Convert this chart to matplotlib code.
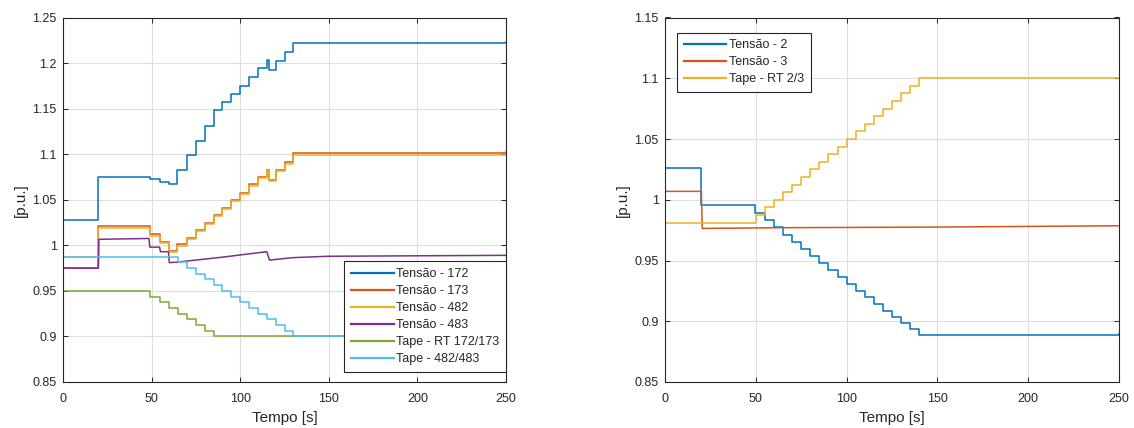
import matplotlib
matplotlib.use("Agg")
import matplotlib.pyplot as plt
from matplotlib.ticker import FuncFormatter, MultipleLocator

# ---- data (time in s, values in p.u.) ----
# left plot: bus voltages 172 / 173 / 482 share the same switching instants
t_bus = [0, 20, 49, 55, 60, 64.5, 70, 75, 80, 85, 90, 95, 100, 105, 110,
         115, 116.3, 120, 125, 130, 250]
v_172 = [1.028, 1.075, 1.0724, 1.0698, 1.0676, 1.0829, 1.0987, 1.1148, 1.1312,
         1.1481, 1.1572, 1.1664, 1.1752, 1.1847, 1.1942, 1.2033, 1.1924, 1.2023,
         1.2121, 1.2225, 1.2234]
v_173 = [0.9755, 1.0207, 1.012, 1.0032, 0.9937, 1.001, 1.0083, 1.0167, 1.0248,
         1.0332, 1.0412, 1.0497, 1.0579, 1.067, 1.075, 1.083, 1.072, 1.083,
         1.091, 1.101, 1.102]
v_482 = [0.9875, 1.019, 1.0102, 1.0021, 0.9926, 0.9995, 1.0068, 1.0152, 1.0233,
         1.0317, 1.0397, 1.0482, 1.0564, 1.0655, 1.0735, 1.0815, 1.0705, 1.0815,
         1.0895, 1.099, 1.100]

# bus 483 drifts between the steps, so it is drawn as a plain polyline
t_483 = [0, 20, 20.3, 48.5, 49, 54.5, 55, 59.5, 60, 64, 90, 115, 116.5, 130, 150, 250]
v_483 = [0.975, 0.975, 1.0066, 1.0075, 0.998, 0.998, 0.993, 0.993, 0.981,
         0.9815, 0.987, 0.993, 0.9838, 0.9865, 0.988, 0.989]

# tap positions (steps of 0.00625)
t_tap_172 = [0, 49, 55, 60, 65, 70, 75, 80, 85, 250]
v_tap_172 = [0.95, 0.94375, 0.9375, 0.93125, 0.925, 0.91875, 0.9125, 0.90625, 0.9, 0.9]
t_tap_482 = [0, 65, 70, 75, 80, 85, 90, 95, 100, 105, 110, 115, 120, 125, 130, 250]
v_tap_482 = [0.9875, 0.98125, 0.975, 0.96875, 0.9625, 0.95625, 0.95, 0.94375,
             0.9375, 0.93125, 0.925, 0.91875, 0.9125, 0.90625, 0.9, 0.9]

# right plot
t_2 = [0, 20, 49.5, 55, 60, 65, 70, 75, 80, 85, 90, 95, 100, 105, 110, 115,
       120, 125, 130, 135, 140, 250]
v_2 = [1.026, 0.9953, 0.989, 0.9835, 0.9775, 0.9712, 0.965, 0.9594, 0.9533,
       0.9478, 0.9423, 0.9363, 0.9305, 0.9253, 0.9198, 0.9143, 0.9088, 0.9033,
       0.8984, 0.8935, 0.8884, 0.8896]
t_3 = [0, 20, 20.5, 65, 150, 250]
v_3 = [1.0069, 1.0069, 0.9764, 0.977, 0.9775, 0.9786]
t_tap_2 = [0, 50, 55, 60, 65, 70, 75, 80, 85, 90, 95, 100, 105, 110, 115, 120,
           125, 130, 135, 140, 250]
v_tap_2 = [0.98125, 0.9875, 0.99375, 1.0, 1.00625, 1.0125, 1.01875, 1.025,
           1.03125, 1.0375, 1.04375, 1.05, 1.05625, 1.0625, 1.06875, 1.075,
           1.08125, 1.0875, 1.09375, 1.1, 1.1]

left_labels = ["Tensão - 172", "Tensão - 173", "Tensão - 482", "Tensão - 483",
               "Tape - RT 172/173", "Tape - 482/483"]
right_labels = ["Tensão - 2", "Tensão - 3", "Tape - RT 2/3"]

# MATLAB default line colours
c = ["#0072BD", "#D95319", "#EDB120", "#7E2F8E", "#77AC30", "#4DBEEE"]

plt.rcParams["font.family"] = ["Liberation Sans", "DejaVu Sans"]
plt.rcParams["text.color"] = "#262626"
dark = "#262626"
lw = 1.1

fig = plt.figure(figsize=(11.34, 4.28), dpi=100)
H = 428
W = 1134
ax1 = fig.add_axes([63 / W, 1 - 382 / H, (506 - 63) / W, (382 - 17.5) / H])
ax2 = fig.add_axes([665 / W, 1 - 382 / H, (1119 - 665) / W, (382 - 17.5) / H])

ax1.plot(t_bus, v_172, color=c[0], lw=lw, drawstyle="steps-post", label=left_labels[0])
ax1.plot(t_bus, v_173, color=c[1], lw=lw, drawstyle="steps-post", label=left_labels[1])
ax1.plot(t_bus, v_482, color=c[2], lw=lw, drawstyle="steps-post", label=left_labels[2])
ax1.plot(t_483, v_483, color=c[3], lw=lw, label=left_labels[3])
ax1.plot(t_tap_172, v_tap_172, color=c[4], lw=lw, drawstyle="steps-post", label=left_labels[4])
ax1.plot(t_tap_482, v_tap_482, color=c[5], lw=lw, drawstyle="steps-post", label=left_labels[5])

ax2.plot(t_2, v_2, color=c[0], lw=lw, drawstyle="steps-post", label=right_labels[0])
ax2.plot(t_3, v_3, color=c[1], lw=lw, label=right_labels[1])
ax2.plot(t_tap_2, v_tap_2, color=c[2], lw=lw, drawstyle="steps-post", label=right_labels[2])

fmt = FuncFormatter(lambda v, _: f"{v:g}")
for ax, ylim in [(ax1, (0.85, 1.25)), (ax2, (0.85, 1.15))]:
    ax.set_xlim(0, 250)
    ax.set_ylim(*ylim)
    ax.xaxis.set_major_locator(MultipleLocator(50))
    ax.yaxis.set_major_locator(MultipleLocator(0.05))
    ax.yaxis.set_major_formatter(fmt)
    ax.grid(True, color="#dedede", lw=0.8)
    ax.set_axisbelow(True)
    ax.tick_params(direction="in", top=True, right=True, length=3.6, width=0.7,
                   color=dark, labelcolor=dark, labelsize=9)
    ax.tick_params(axis="x", pad=8)
    ax.tick_params(axis="y", pad=4.5)
    for s in ax.spines.values():
        s.set_color(dark)
        s.set_linewidth(0.8)
    ax.set_xlabel("Tempo [s]", fontsize=11, color=dark, labelpad=4.4)
    ax.set_ylabel("[p.u.]", fontsize=11, color=dark, labelpad=3)

leg_kw = dict(fontsize=9, fancybox=False, framealpha=1, edgecolor=dark,
              handlelength=3.4, handletextpad=0.2, labelspacing=0.4,
              borderpad=0.55, borderaxespad=0)
l1 = ax1.legend(loc="lower right", bbox_to_anchor=(1.0, 10 / 364.5), **leg_kw)
l2 = ax2.legend(loc="upper left", bbox_to_anchor=(12 / 454, 1 - 15 / 364.5), **leg_kw)
for lg in (l1, l2):
    lg.get_frame().set_linewidth(0.8)
    for line in lg.get_lines():
        line.set_linewidth(1.6)

fig.savefig("out.png", dpi=100)
